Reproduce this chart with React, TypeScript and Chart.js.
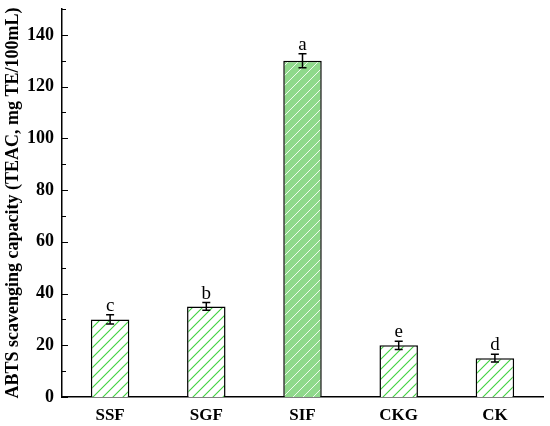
import React, { useEffect, useRef } from "react";
import { Chart, registerables } from "chart.js";

Chart.register(...registerables);

const categories = ["SSF", "SGF", "SIF", "CKG", "CK"];
const values = [30, 35, 130, 20, 15];
const errors = [1.8, 1.5, 2.7, 1.6, 1.5];
const letters = ["c", "b", "a", "e", "d"];
const majorTicks = [0, 20, 40, 60, 80, 100, 120, 140];
const minorTicks = [10, 30, 50, 70, 90, 110, 130, 150];
const highlighted = [false, false, true, false, false];

const SERIF = "'Liberation Serif', 'Times New Roman', serif";

function makePattern(bg: string | null, line: string, lw: number): CanvasPattern | string {
  const c = document.createElement("canvas");
  c.width = 10;
  c.height = 10;
  const g = c.getContext("2d");
  if (!g) return line;
  if (bg) {
    g.fillStyle = bg;
    g.fillRect(0, 0, 10, 10);
  }
  g.strokeStyle = line;
  g.lineWidth = lw;
  g.beginPath();
  g.moveTo(0, 10);
  g.lineTo(10, 0);
  g.moveTo(-5, 5);
  g.lineTo(5, -5);
  g.moveTo(5, 15);
  g.lineTo(15, 5);
  g.stroke();
  const p = g.createPattern(c, "repeat");
  return p || line;
}

const extrasPlugin = {
  id: "extras",
  afterDatasetsDraw(chart: any) {
    const ctx = chart.ctx;
    const meta = chart.getDatasetMeta(0);
    const y = chart.scales.y;
    ctx.save();
    ctx.strokeStyle = "#000";
    ctx.lineWidth = 1.5;
    meta.data.forEach((bar: any, i: number) => {
      const x = bar.x;
      const top = y.getPixelForValue(values[i] + errors[i]);
      const bot = y.getPixelForValue(values[i] - errors[i]);
      ctx.beginPath();
      ctx.moveTo(x, top);
      ctx.lineTo(x, bot);
      ctx.moveTo(x - 4, top);
      ctx.lineTo(x + 4, top);
      ctx.moveTo(x - 4, bot);
      ctx.lineTo(x + 4, bot);
      ctx.stroke();
      ctx.fillStyle = "#000";
      ctx.font = `19px ${SERIF}`;
      ctx.textAlign = "center";
      ctx.textBaseline = "alphabetic";
      ctx.fillText(letters[i], x, top - 4);
    });
    ctx.restore();
  },
  afterDraw(chart: any) {
    const ctx = chart.ctx;
    const y = chart.scales.y;
    const left = chart.chartArea.left;
    ctx.save();
    ctx.strokeStyle = "#000";
    ctx.lineWidth = 1.2;
    ctx.beginPath();
    majorTicks.forEach((v) => {
      const py = Math.round(y.getPixelForValue(v)) + 0.5;
      ctx.moveTo(left, py);
      ctx.lineTo(left + 6, py);
    });
    minorTicks.forEach((v) => {
      const py = Math.round(y.getPixelForValue(v)) + 0.5;
      ctx.moveTo(left, py);
      ctx.lineTo(left + 4, py);
    });
    ctx.stroke();
    ctx.restore();
  },
};

export default function App() {
  const ref = useRef<HTMLCanvasElement | null>(null);
  useEffect(() => {
    document.body.style.margin = "0";
    const canvas = ref.current;
    if (!canvas) return;
    const plain = makePattern("#ffffff", "#3fd13f", 1.1);
    const filled = makePattern("#8fd98b", "#eefaec", 1);
    const chart = new Chart(canvas, {
      type: "bar",
      data: {
        labels: categories,
        datasets: [
          {
            data: values,
            backgroundColor: highlighted.map((h) => (h ? filled : plain)) as any,
            borderColor: "#000",
            borderWidth: 1.5,
            barPercentage: 0.4,
            categoryPercentage: 1,
          },
        ],
      },
      options: {
        animation: false,
        responsive: false,
        layout: { padding: { left: 0, top: 9, right: 7, bottom: 0 } },
        plugins: { legend: { display: false }, tooltip: { enabled: false } },
        scales: {
          x: {
            grid: { display: false, drawTicks: false },
            border: { display: true, color: "#000", width: 1.5 },
            ticks: {
              color: "#000",
              padding: 8,
              font: { family: SERIF, size: 17, weight: "bold" },
            },
            afterFit(scale: any) {
              scale.height = 29;
              scale.paddingLeft = 0;
              scale.paddingRight = 0;
            },
          },
          y: {
            min: 0,
            max: 150,
            grid: { display: false, drawTicks: false },
            border: { display: true, color: "#000", width: 1.5 },
            ticks: {
              stepSize: 20,
              color: "#000",
              padding: 8,
              font: { family: SERIF, size: 18, weight: "bold" },
            },
            afterBuildTicks(scale: any) {
              scale.ticks = scale.ticks.filter((t: any) => t.value <= 140);
            },
            title: {
              display: true,
              text: "ABTS scavenging capacity (TEAC, mg TE/100mL)",
              color: "#000",
              padding: { top: 3, bottom: 0 },
              font: { family: SERIF, size: 18, weight: "bold" },
            },
            afterFit(scale: any) {
              scale.width = 62;
              scale.paddingTop = 0;
              scale.paddingBottom = 0;
            },
          },
        },
      },
      plugins: [extrasPlugin],
    });
    return () => chart.destroy();
  }, []);
  return (
    <div style={{ width: 550, height: 426 }}>
      <canvas ref={ref} width={550} height={426} />
    </div>
  );
}
